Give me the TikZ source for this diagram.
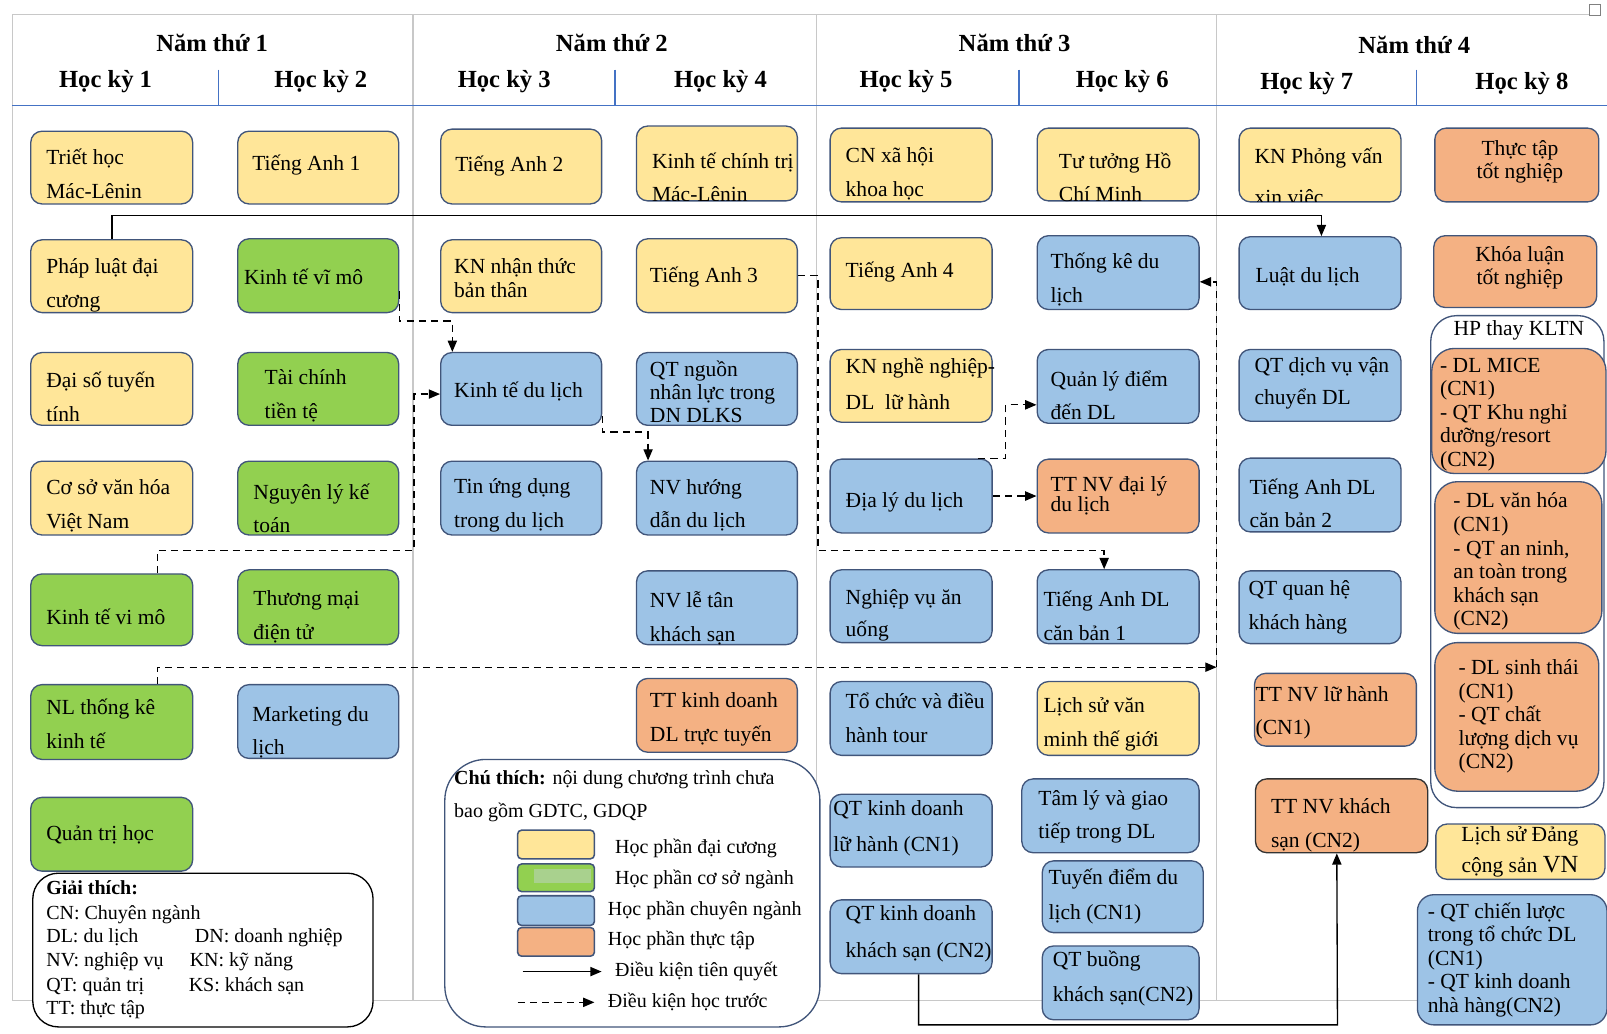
\documentclass[tikz,border=0pt]{standalone}
\usepackage{fontspec}
\setmainfont{Liberation Serif}
\usetikzlibrary{fit,calc,arrows.meta}
\definecolor{cy}{HTML}{FFE699}
\definecolor{cg}{HTML}{92D050}
\definecolor{cgl}{HTML}{A9D18E}
\definecolor{cb}{HTML}{9DC3E6}
\definecolor{co}{HTML}{F4B183}
\definecolor{bd}{HTML}{41557A}
\definecolor{gl}{HTML}{C8C8C8}
\definecolor{hb}{HTML}{4472C4}
\begin{document}
\begin{tikzpicture}[x=1pt,y=-1pt,
 box/.style={draw=bd, line width=1.3pt, rounded corners=11pt, inner sep=0pt},
 yb/.style={box, fill=cy}, gb/.style={box, fill=cg}, bb/.style={box, fill=cb}, ob/.style={box, fill=co},
 tx/.style={anchor=west, align=left, inner sep=0pt, font=\fontsize{21}{33}\selectfont},
 tx1/.style={tx, font=\fontsize{21}{23}\selectfont},
 txc/.style={tx1, anchor=center, align=center},
 hd/.style={inner sep=0pt, font=\fontsize{24}{28}\selectfont\bfseries},
 lg/.style={anchor=base west, inner sep=0pt, font=\fontsize{19.5}{23}\selectfont},
 pre/.style={draw=black, line width=1.3pt, -{Triangle[length=11pt,width=9pt]}},
 pre2/.style={pre, dash pattern=on 7pt off 5pt},
 gline/.style={draw=gl, line width=1.2pt},
 hline/.style={draw=hb, line width=1.5pt},
 sw/.style={draw=bd, line width=1.5pt, rounded corners=4pt, inner sep=0pt}]
\useasboundingbox (0,0) rectangle (1568,1008);
% frame
\draw[gline] (12,976) -- (12,14) -- (1550,14);
\draw[gline] (12,976) -- (1568,976);
\draw[draw=gray, line width=0.8pt] (1551,4) rectangle (1562,15);
\foreach \cx in {403,797,1187} \draw[gline] (\cx,14) -- (\cx,976);
\draw[hline] (12,103) -- (1568,103);
\foreach \cx in {213,600,994,1382} \draw[hline] (\cx,68) -- (\cx,103);
% headers
\node[hd] (n1) at (207,42) {Năm thứ 1};
\node[hd] (n2) at (597,42) {Năm thứ 2};
\node[hd] (n3) at (990,42) {Năm thứ 3};
\node[hd] (n4) at (1380,44) {Năm thứ 4};
\node[hd] (h1) at (103,80) {Học kỳ 1};
\node[hd] (h2) at (313,80) {Học kỳ 2};
\node[hd] (h3) at (492,80) {Học kỳ 3};
\node[hd] (h4) at (703,80) {Học kỳ 4};
\node[hd] (h5) at (884,80) {Học kỳ 5};
\node[hd] (h6) at (1095,80) {Học kỳ 6};
\node[hd] (h7) at (1275,82) {Học kỳ 7};
\node[hd] (h8) at (1485,82) {Học kỳ 8};
% column 1
\node[yb, fit={(30,128)(188,199)}] (trh) {};
\node[tx] (trh-t) at (45,169.5) {Triết học\\Mác-Lênin};
\node[yb, fit={(30,234)(188,305)}] (plu) {};
\node[tx] (plu-t) at (45,278.5) {Pháp luật đại\\cương};
\node[yb, fit={(30,344)(188,415)}] (dstt) {};
\node[tx] (dstt-t) at (45,387) {Đại số tuyến\\tính};
\node[yb, fit={(30,450)(188,522)}] (csvh) {};
\node[tx] (csvh-t) at (45,493.5) {Cơ sở văn hóa\\Việt Nam};
\node[gb, fit={(30,560)(188,630)}] (kvm1) {};
\node[tx] (kvm1-t) at (45,602) {Kinh tế vi mô};
\node[gb, fit={(30,668)(188,741)}] (nltk) {};
\node[tx] (nltk-t) at (45,706) {NL thống kê\\kinh tế};
\node[gb, fit={(30,778)(188,850)}] (qth) {};
\node[tx] (qth-t) at (45,815) {Quản trị học};
% column 2
\node[yb, fit={(232,128)(389,199)}] (ta1) {};
\node[tx] (ta1-t) at (246,161) {Tiếng Anh 1};
\node[gb, fit={(232,233)(389,305)}] (kvm2) {};
\node[tx] (kvm2-t) at (238,270) {Kinh tế vĩ mô};
\node[gb, fit={(232,344)(389,415)}] (tctt) {};
\node[tx] (tctt-t) at (258,386.5) {Tài chính\\tiền tệ};
\node[gb, fit={(232,450)(389,522)}] (nlkt) {};
\node[tx] (nlkt-t) at (247,496) {Nguyên lý kế\\toán};
\node[gb, fit={(232,556)(389,629)}] (tmdt) {};
\node[tx] (tmdt-t) at (247,602) {Thương mại\\điện tử};
\node[bb, fit={(232,668)(389,740)}] (mkt) {};
\node[tx] (mkt-t) at (246,714.5) {Marketing du\\lịch};
% column 3
\node[yb, fit={(430,126)(587,199)}] (ta2) {};
\node[tx] (ta2-t) at (444,162) {Tiếng Anh 2};
\node[yb, fit={(430,234)(587,305)}] (kntt) {};
\node[tx1] (kntt-t) at (443,271.5) {KN nhận thức\\bản thân};
\node[bb, fit={(430,344)(587,415)}] (ktdl) {};
\node[tx] (ktdl-t) at (443,382) {Kinh tế du lịch};
\node[bb, fit={(430,450)(587,522)}] (tin) {};
\node[tx] (tin-t) at (443,493) {Tin ứng dụng\\trong du lịch};
% column 4
\node[yb, fit={(621,123)(778,196)}] (ktct) {};
\begin{scope}
\clip[rounded corners=11pt] (621,123) rectangle (778,196);
\node[tx] (ktct-t) at (636,173) {Kinh tế chính trị\\Mác-Lênin};
\end{scope}
\node[yb, fit={(621,233)(778,305)}] (ta3) {};
\node[tx] (ta3-t) at (634,270) {Tiếng Anh 3};
\node[bb, fit={(621,344)(778,415)}] (qtnl) {};
\node[tx, font=\fontsize{21}{22.5}\selectfont] (qtnl-t) at (634,382.5) {QT nguồn\\nhân lực trong\\DN DLKS};
\node[bb, fit={(621,450)(778,522)}] (nvhd) {};
\node[tx] (nvhd-t) at (634,493) {NV hướng\\dẫn du lịch};
\node[bb, fit={(621,557)(778,629)}] (nvlt) {};
\node[tx] (nvlt-t) at (634,603.5) {NV lễ tân\\khách sạn};
\node[ob, fit={(621,662)(778,734)}] (ttkd) {};
\node[tx] (ttkd-t) at (634,701.5) {TT kinh doanh\\DL trực tuyến};
% column 5
\node[yb, fit={(810,125)(968,197)}] (cnxh) {};
\node[tx] (cnxh-t) at (825,169.5) {CN xã hội\\khoa học};
\node[yb, fit={(810,232)(968,302)}] (ta4) {};
\node[tx] (ta4-t) at (825,265) {Tiếng Anh 4};
\node[yb, fit={(810,341)(968,412)}] (knnn) {};
\node[tx, font=\fontsize{21}{35}\selectfont] (knnn-t) at (825,374.5) {KN nghề nghiệp-\\DL\ \ lữ hành};
\node[bb, fit={(810,448)(968,520)}] (dly) {};
\node[tx] (dly-t) at (825,490) {Địa lý du lịch};
\node[bb, fit={(810,556)(968,627)}] (nvau) {};
\node[tx, font=\fontsize{21}{31}\selectfont] (nvau-t) at (825,600.5) {Nghiệp vụ ăn\\uống};
\node[bb, fit={(810,665)(968,737)}] (tcdh) {};
\node[tx] (tcdh-t) at (825,700.5) {Tổ chức và điều\\hành tour};
\node[bb, fit={(810,775)(968,846)}] (qtlh) {};
\node[tx, font=\fontsize{21}{35}\selectfont] (qtlh-t) at (813,808.5) {QT kinh doanh\\lữ hành (CN1)};
\node[bb, fit={(810,878)(968,950)}] (qtks) {};
\node[tx, font=\fontsize{21}{36}\selectfont] (qtks-t) at (825,911) {QT kinh doanh\\khách sạn (CN2)};
% column 6
\node[yb, fit={(1012,125)(1170,196)}] (tthcm) {};
\node[tx] (tthcm-t) at (1033,173) {Tư tưởng Hồ\\Chí Minh};
\node[bb, fit={(1012,230)(1170,302)}] (tkdl) {};
\node[tx] (tkdl-t) at (1025,272.5) {Thống kê du\\lịch};
\node[bb, fit={(1012,341)(1170,413)}] (qld) {};
\node[tx, font=\fontsize{21}{32}\selectfont] (qld-t) at (1025,386) {Quản lý điểm\\đến DL};
\node[ob, fit={(1012,448)(1170,520)}] (ttdl) {};
\node[tx, font=\fontsize{21}{20}\selectfont] (ttdl-t) at (1025,484) {TT NV đại lý\\du lịch};
\node[bb, fit={(1012,556)(1170,628)}] (tadl1) {};
\node[tx] (tadl1-t) at (1018,600.5) {Tiếng Anh DL\\căn bản 1};
\node[yb, fit={(1012,665)(1170,737)}] (lsvm) {};
\node[tx] (lsvm-t) at (1018,706.5) {Lịch sử văn\\minh thế giới};
\node[bb, fit={(997,760)(1170,832)}] (tlgt) {};
\node[tx, font=\fontsize{21}{32}\selectfont] (tlgt-t) at (1013,797) {Tâm lý và giao\\tiếp trong DL};
\node[bb, fit={(1017,840)(1174,910)}] (tddl) {};
\node[tx, font=\fontsize{21}{34}\selectfont] (tddl-t) at (1023,875) {Tuyến điểm du\\lịch (CN1)};
\node[bb, fit={(1017,923)(1170,995)}] (qtb) {};
\node[tx, font=\fontsize{21}{34}\selectfont] (qtb-t) at (1027,955) {QT buồng\\khách sạn(CN2)};
% column 7
\node[yb, fit={(1209,125)(1367,197)}] (knpv) {};
\begin{scope}
\clip[rounded corners=11pt] (1209,125) rectangle (1367,197);
\node[tx, font=\fontsize{21}{40}\selectfont] (knpv-t) at (1224,174) {KN Phỏng vấn\\xin việc};
\end{scope}
\node[bb, fit={(1209,231)(1367,302)}] (ldl) {};
\node[tx] (ldl-t) at (1225,270) {Luật du lịch};
\node[bb, fit={(1209,341)(1367,411)}] (qtvc) {};
\node[tx, font=\fontsize{21}{32}\selectfont] (qtvc-t) at (1224,374) {QT dịch vụ vận\\chuyển DL};
\node[bb, fit={(1209,447)(1367,519)}] (tadl2) {};
\node[tx, font=\fontsize{21}{32}\selectfont] (tadl2-t) at (1219,491) {Tiếng Anh DL\\căn bản 2};
\node[bb, fit={(1209,557)(1367,628)}] (qtqh) {};
\node[tx] (qtqh-t) at (1218,592.5) {QT quan hệ\\khách hàng};
\node[ob, fit={(1224,657)(1382,728)}] (ttlh) {};
\node[tx] (ttlh-t) at (1225,695.5) {TT NV lữ hành\\(CN1)};
\node[ob, draw=black!80, fit={(1225,760)(1393,832)}] (ttks) {};
\node[tx] (ttks-t) at (1240,805.5) {TT NV khách\\sạn (CN2)};
% column 8
\node[ob, fit={(1400,125)(1560,197)}] (tttn) {};
\node[txc, font=\fontsize{21}{22}\selectfont] (tttn-t) at (1483,158) {Thực tập\\tốt nghiệp};
\node[ob, fit={(1399,230)(1558,300)}] (kltn) {};
\node[txc] (kltn-t) at (1483,261.5) {Khóa luận\\tốt nghiệp};
\node[box, fill=white, rounded corners=25pt, fit={(1396,308)(1565,788)}] (hp) {};
\node[inner sep=0pt, font=\fontsize{21}{23}\selectfont] (hp-t) at (1482,322) {HP thay KLTN};
\node[ob, rounded corners=22pt, fit={(1397,340)(1567,462)}] (hp1) {};
\node[tx1] (hp1-t) at (1405,404.5) {- DL MICE\\(CN1)\\- QT Khu nghỉ\\dưỡng/resort\\(CN2)};
\node[ob, rounded corners=22pt, fit={(1400,470)(1563,618)}] (hp2) {};
\node[tx1] (hp2-t) at (1418,548) {- DL văn hóa\\(CN1)\\- QT an ninh,\\an toàn trong\\khách sạn\\(CN2)};
\node[ob, rounded corners=22pt, fit={(1400,627)(1560,772)}] (hp3) {};
\node[tx1] (hp3-t) at (1423,699) {- DL sinh thái\\(CN1)\\- QT chất\\lượng dịch vụ\\(CN2)};
\node[yb, fit={(1401,804)(1566,858)}] (lsd) {};
\node[txc, font=\fontsize{21}{30}\selectfont] (lsd-t) at (1483,831) {Lịch sử Đảng\\cộng sản {\fontsize{24}{30}\selectfont VN}};
\node[bb, rounded corners=16pt, fit={(1383,873)(1568,1000)}] (qtcl) {};
\node[tx1] (qtcl-t) at (1393,936.5) {- QT chiến lược\\trong tổ chức DL\\(CN1)\\- QT kinh doanh\\nhà hàng(CN2)};
% explanation box
\node[draw=black, line width=1.3pt, fill=white, rounded corners=25pt, inner sep=0pt, fit={(32,852)(364,1002)}] (gt) {};
\node[lg] (gt0) at (45,873) {\textbf{Giải thích:}};
\node[lg] (gt1) at (45,897) {CN: Chuyên ngành};
\node[lg] (gt2) at (45,920) {DL: du lịch};
\node[lg] (gt3) at (190,920) {DN: doanh nghiệp};
\node[lg] (gt4) at (45,943) {NV: nghiệp vụ};
\node[lg] (gt5) at (185,943) {KN: kỹ năng};
\node[lg] (gt6) at (45,967) {QT: quản trị};
\node[lg] (gt7) at (184,967) {KS: khách sạn};
\node[lg] (gt8) at (45,990) {TT: thực tập};
% legend box
\node[draw=bd, line width=1.3pt, fill=white, rounded corners=40pt, inner sep=0pt, fit={(434,741)(800,1002)}] (ct) {};
\node[lg] (ct1) at (443,765) {\textbf{Chú thích:} nội dung chương trình chưa};
\node[lg] (ct2) at (443,798) {bao gồm GDTC, GDQP};
\node[sw, fill=cy, fit={(505,810)(580,838)}] (s1) {};
\node[sw, fill=cg, fit={(505,843)(580,870)}] (s2) {};
\node[fill=cgl, inner sep=0pt, fit={(521,848)(577,862)}] (s2b) {};
\node[sw, fill=cb, fit={(505,874)(580,903)}] (s3) {};
\node[sw, fill=co, fit={(505,905)(580,933)}] (s4) {};
\node[lg] (l1) at (600,833) {Học phần đại cương};
\node[lg] (l2) at (600,863) {Học phần cơ sở ngành};
\node[lg] (l3) at (593,893) {Học phần chuyên ngành};
\node[lg] (l4) at (593,923) {Học phần thực tập};
\coordinate (la1) at (510,948);
\coordinate (la2) at (587,948);
\draw[pre] (la1) -- (la2);
\node[lg] (l5) at (600,953) {Điều kiện tiên quyết};
\coordinate (lb1) at (505,978);
\coordinate (lb2) at (580,978);
\draw[pre2] (lb1) -- (lb2);
\node[lg] (l6) at (593,983) {Điều kiện học trước};
% connectors
\draw[pre] ($(plu.north west)+(80,0)$) |- ($(ldl.north west)+(81,-20)$) -- ($(ldl.north west)+(81,0)$);
\draw[pre2] ($(kvm2.north east)+(0,52)$) -- ($(kvm2.north east)+(0,81)$) -| ($(ktdl.north west)+(12,0)$);
\coordinate (c3) at (404,537);
\draw[pre2] ($(kvm1.north west)+(124,0)$) |- (c3) |- ($(ktdl.west)+(0,5)$);
\draw[pre2] ($(ktdl.south east)+(0,-10)$) -- ++(0,16) -| ($(nvhd.north west)+(12,0)$);
\coordinate (c5) at (798,537);
\draw[pre2] (ta3.east) -| (c5) -| ($(tadl1.north west)+(66,0)$);
\draw[pre2] (dly.east) -- (ttdl.west);
\draw[pre2] ($(dly.north west)+(145,0)$) -- ++(27,0) |- ($(qld.west)+(0,18)$);
\coordinate (c8) at (1187,651);
\draw[pre2] ($(nltk.north west)+(124,0)$) |- (c8);
\draw[pre2] (c8) |- ($(tkdl.east)+(0,9)$);
\coordinate (c9) at (1305,1000);
\draw[pre] ($(qtks.south west)+(87,0)$) |- (c9) -- ($(ttks.south west)+(80,0)$);
\end{tikzpicture}
\end{document}
